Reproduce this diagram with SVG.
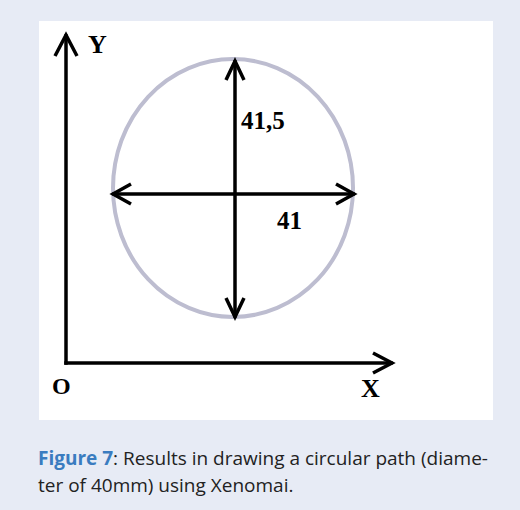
<svg xmlns="http://www.w3.org/2000/svg" width="520" height="510" viewBox="0 0 520 510">
<style>
.ax{stroke:#000;stroke-width:3.5;fill:none;stroke-linecap:square}
.hd{stroke:#000;stroke-width:3.5;fill:none;stroke-linejoin:miter}
.lbl{font-family:"Liberation Serif",serif;font-weight:bold;fill:#000}
.cap{font-family:"Open Sans","Noto Sans",sans-serif;font-size:19px;fill:#222}
</style>
<rect x="0" y="0" width="520" height="510" fill="#e7ebf5"/>
<rect x="39" y="21" width="454" height="399" fill="#ffffff"/>
<g id="circle">
<ellipse cx="233" cy="188" rx="120" ry="129" fill="none" stroke="#bdbdd0" stroke-width="4"/>
</g>
<g id="connectors">
<line class="ax" x1="66" y1="36" x2="66" y2="363"/>
<line class="ax" x1="66" y1="363" x2="391" y2="363"/>
<polyline class="hd" points="55,56 66,35 77,56"/>
<polyline class="hd" points="373,353 392,363 373,373"/>
<line class="ax" x1="114" y1="194" x2="353" y2="194"/>
<polyline class="hd" points="131,184 113,194 131,204"/>
<polyline class="hd" points="336,184 354,194 336,204"/>
<line class="ax" x1="235" y1="62" x2="235" y2="316"/>
<polyline class="hd" points="226,80 235,61 244,80"/>
<polyline class="hd" points="226,298 235,317 244,298"/>
</g>
<g id="labels">
<text class="lbl" x="88" y="53" font-size="26">Y</text>
<text class="lbl" x="52" y="394" font-size="24">O</text>
<text class="lbl" x="361" y="397" font-size="26">X</text>
<text class="lbl" x="241" y="129" font-size="25">41,5</text>
<text class="lbl" x="277" y="229" font-size="25">41</text>
</g>
<g id="caption">
<text class="cap" x="38" y="465"><tspan font-weight="bold" fill="#3a7cc0">Figure 7</tspan>: Results in drawing a circular path (diame-</text>
<text class="cap" x="38" y="492">ter of 40mm) using Xenomai.</text>
</g>
</svg>
